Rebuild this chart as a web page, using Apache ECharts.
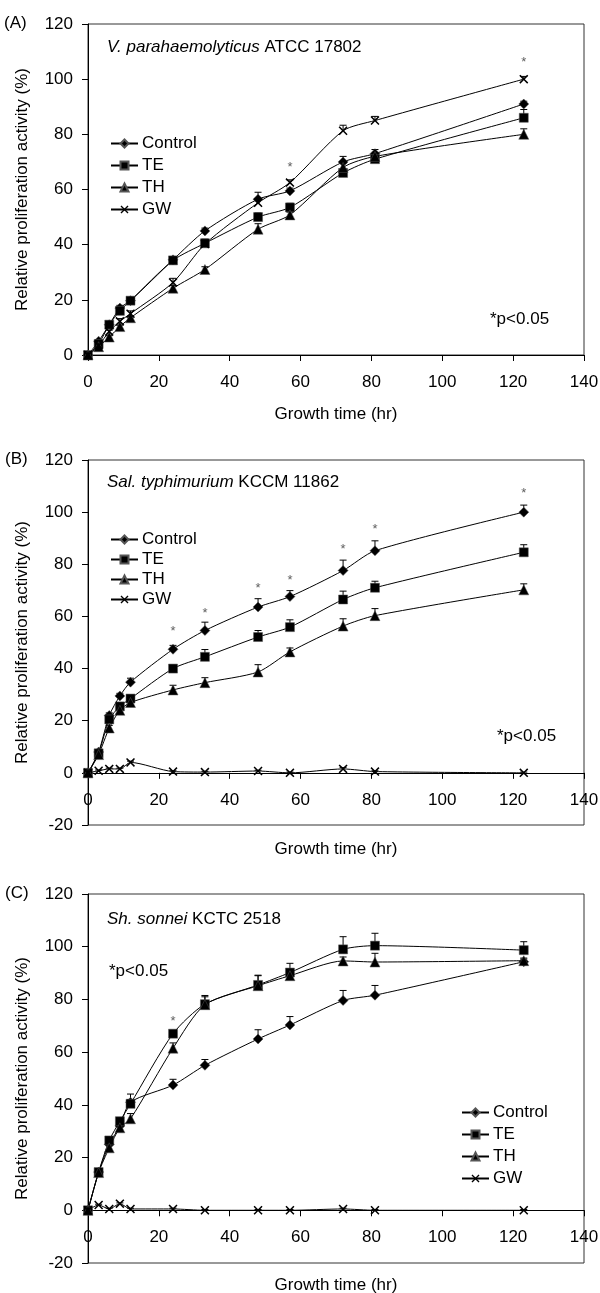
<!DOCTYPE html>
<html>
<head>
<meta charset="UTF-8">
<title>Relative proliferation activity</title>
<script src="https://cdn.jsdelivr.net/npm/echarts@6/dist/echarts.min.js"></script>
<style>
  html, body { margin: 0; padding: 0; background: #fff; }
  #box { width: 600px; height: 1293px; }
</style>
</head>
<body>
<div id="box"></div>
<script type="text/javascript">
// growth time points (hr)
var times = [0, 3, 6, 9, 12, 24, 33, 48, 57, 72, 81, 123];
var names = ['Control', 'TE', 'TH', 'GW'];

// (A) V. parahaemolyticus
var aControl = [0, 5, 11, 17, 19.7, 34.5, 45, 56.5, 59.5, 70, 73, 91];
var aTE      = [0, 4, 11, 16, 19.7, 34.3, 40.5, 50, 53.5, 66, 71, 86];
var aTH      = [0, 3, 6.5, 10.3, 13.5, 24.2, 31, 45.6, 50.8, 68, 72, 80];
var aGW      = [0, 3.5, 8.5, 12.2, 15, 26.3, 40.2, 55.2, 62.5, 81.3, 85, 100];
var aErrControl = [0, 0.5, 0.5, 1, 0.5, 1, 1, 2.5, 1, 2, 1.5, 1];
var aErrTE      = [0, 0.5, 0.5, 1, 0.5, 1, 1.5, 1.5, 1.5, 1.5, 1, 3];
var aErrTH      = [0, 0.5, 0.5, 0.5, 0.5, 1, 1, 2, 1, 1.5, 1, 2];
var aErrGW      = [0, 0.5, 0.5, 1, 1, 1.5, 1, 1, 1, 2, 1.5, 1];
var aSig = [[57, 68], [123, 106]];

// (B) Sal. typhimurium
var bControl = [0, 8, 22, 29.5, 34.8, 47.4, 54.6, 63.6, 67.6, 77.6, 85.2, 100];
var bTE      = [0, 7.5, 20.5, 25.5, 28.5, 40, 44.5, 52.1, 55.9, 66.5, 71, 84.6];
var bTH      = [0, 7, 17.2, 24, 27, 31.8, 34.6, 38.7, 46.4, 56.3, 60.3, 70.2];
var bGW      = [0, 0.8, 1.5, 1.5, 4, 0.5, 0.3, 0.7, 0, 1.5, 0.5, 0];
var bErrControl = [0, 0.5, 1, 1, 1.5, 1.5, 3.2, 3.2, 2.3, 4, 3.8, 2.7];
var bErrTE      = [0, 0.5, 1, 1, 1, 1, 2.8, 2.5, 2.8, 3.2, 2.5, 2.9];
var bErrTH      = [0, 0.5, 1, 1, 1, 1.8, 1.9, 2.8, 1.5, 2.8, 2.7, 2.3];
var bErrGW      = [0, 0.3, 0.3, 0.3, 0.5, 0.3, 0.3, 0.3, 0.3, 0.5, 0.3, 0.3];
var bSig = [[24, 54.3], [33, 61], [48, 70.6], [57, 73.8], [72, 85.6], [81, 93.2], [123, 107.3]];

// (C) Sh. sonnei
var cControl = [0, 14.5, 25, 32, 41, 47.5, 55, 65, 70.3, 79.6, 81.6, 94.3];
var cTE      = [0, 14.5, 26.5, 33.8, 40.4, 67, 78.2, 85.5, 90.2, 99, 100.4, 98.7];
var cTH      = [0, 14.3, 23.7, 31.3, 34.7, 61.5, 78, 85.2, 89, 94.6, 94.2, 94.7];
var cGW      = [0, 2, 0.5, 2.5, 0.5, 0.5, 0, 0, 0, 0.5, 0, 0];
var cErrControl = [0, 0.5, 1, 1, 1, 2.2, 2.2, 3.5, 3.2, 3.8, 3.7, 1];
var cErrTE      = [0, 0.5, 1, 1, 3.7, 1, 3.3, 3.5, 3.5, 4.8, 4.7, 3.2];
var cErrTH      = [0, 0.5, 1, 1, 2, 2, 3, 4, 2, 1.5, 3.3, 1];
var cErrGW      = [0, 0.3, 0.3, 0.3, 0.3, 0.3, 0.3, 0.3, 0.3, 0.3, 0.3, 0.3];
var cSig = [[24, 71.6]];

var FONT = 'Liberation Sans, Arial, sans-serif';
var FS = 17;
var xMark = 'path://M0,1.2L1.2,0L5,3.8L8.8,0L10,1.2L6.2,5L10,8.8L8.8,10L5,6.2L1.2,10L0,8.8L3.8,5Z';
var symbols = ['diamond', 'rect', 'triangle', xMark];
var symbolSizes = [10, 9, 10, 9];

var myChart = echarts.init(document.getElementById('box'));

function pairs(vals) {
    return times.map(function (t, i) { return [t, vals[i]]; });
}

function errPairs(vals, errs) {
    return times.map(function (t, i) { return [t, vals[i], vals[i] + errs[i]]; });
}

function renderErr(params, api) {
    var x = api.value(0);
    var p0 = api.coord([x, api.value(1)]);
    var p1 = api.coord([x, api.value(2)]);
    var st = { stroke: '#000', lineWidth: 1 };
    return {
        type: 'group',
        children: [
            { type: 'line', shape: { x1: p0[0], y1: p0[1], x2: p1[0], y2: p1[1] }, style: st },
            { type: 'line', shape: { x1: p1[0] - 3.5, y1: p1[1], x2: p1[0] + 3.5, y2: p1[1] }, style: st }
        ]
    };
}

var gridBox = [
    { top: 24, height: 331, yMin: 0 },
    { top: 460, height: 365, yMin: -20 },
    { top: 894, height: 369, yMin: -20 }
];
var xNameGaps = [51, 68, 67];

var grids = [], xAxes = [], yAxes = [];
gridBox.forEach(function (b, g) {
    grids.push({ left: 88, width: 496, top: b.top, height: b.height, show: true,
        borderColor: '#333', borderWidth: 1, outerBoundsMode: 'none', containLabel: false });
    // x axis sits at y = 0; panels with negative range shift it up
    var zeroShift = b.height * (0 - b.yMin) / (120 - b.yMin);
    xAxes.push({
        type: 'value', gridIndex: g, min: 0, max: 140, interval: 20,
        offset: -zeroShift,
        name: 'Growth time (hr)', nameLocation: 'middle', nameGap: xNameGaps[g],
        nameTextStyle: { fontFamily: FONT, fontSize: FS, color: '#000' },
        axisLine: { onZero: false, lineStyle: { color: '#000', width: 1 } },
        axisTick: { show: true, length: 6, lineStyle: { color: '#000' } },
        axisLabel: { fontFamily: FONT, fontSize: FS, color: '#000', margin: 19 },
        splitLine: { show: false }
    });
    yAxes.push({
        type: 'value', gridIndex: g, min: b.yMin, max: 120, interval: 20,
        name: 'Relative proliferation activity (%)', nameLocation: 'middle', nameGap: 57,
        nameTextStyle: { fontFamily: FONT, fontSize: FS, color: '#000' },
        axisLine: { show: true, lineStyle: { color: '#000', width: 1 } },
        axisTick: { show: true, length: 6, lineStyle: { color: '#000' } },
        axisLabel: { fontFamily: FONT, fontSize: FS, color: '#000', margin: 15 },
        splitLine: { show: false }
    });
});

var panels = [
    { lines: [aControl, aTE, aTH, aGW], errs: [aErrControl, aErrTE, aErrTH, aErrGW], sig: aSig },
    { lines: [bControl, bTE, bTH, bGW], errs: [bErrControl, bErrTE, bErrTH, bErrGW], sig: bSig },
    { lines: [cControl, cTE, cTH, cGW], errs: [cErrControl, cErrTE, cErrTH, cErrGW], sig: cSig }
];

var series = [];
panels.forEach(function (p, g) {
    p.lines.forEach(function (vals, k) {
        series.push({
            type: 'custom', name: names[k] + '-err', xAxisIndex: g, yAxisIndex: g,
            renderItem: renderErr, data: errPairs(vals, p.errs[k]), silent: true, z: 1,
            encode: { x: 0, y: [1, 2] }
        });
    });
    p.lines.forEach(function (vals, k) {
        series.push({
            type: 'line', name: names[k], xAxisIndex: g, yAxisIndex: g,
            data: pairs(vals), smooth: 0.25,
            symbol: symbols[k], symbolSize: symbolSizes[k], showAllSymbol: true,
            itemStyle: { color: '#000', borderColor: k === 3 ? '#000' : '#555', borderWidth: k === 3 ? 0 : 0.5 },
            lineStyle: { color: '#000', width: 1 },
            z: 3
        });
    });
    series.push({
        type: 'scatter', name: 'sig', xAxisIndex: g, yAxisIndex: g,
        data: p.sig, symbolSize: 1, itemStyle: { color: 'rgba(0,0,0,0)' },
        label: { show: true, position: 'inside', formatter: '*', fontFamily: FONT, fontSize: 13, color: '#333' },
        silent: true
    });
});

function legendAt(left, top, gap) {
    return {
        left: left, top: top, orient: 'vertical', itemWidth: 27, itemHeight: 10, itemGap: gap,
        padding: 0, data: names, selectedMode: false,
        textStyle: { fontFamily: FONT, fontSize: FS, color: '#000', padding: [0, 0, 0, -1] }
    };
}

function label(text, left, top) {
    var ts = { fontFamily: FONT, fontSize: FS, fontWeight: 'normal', color: '#000',
        rich: { i: { fontFamily: FONT, fontSize: FS, fontStyle: 'italic', color: '#000' },
                n: { fontFamily: FONT, fontSize: FS, color: '#000' } } };
    return { text: text, left: left, top: top, padding: 0, textStyle: ts };
}

var option = {
    backgroundColor: '#fff',
    animation: false,
    title: [
        label('(A)', 4, 15),
        label('(B)', 5, 451),
        label('(C)', 5, 885),
        label('{i|V. parahaemolyticus} {n|ATCC 17802}', 107, 39),
        label('{i|Sal. typhimurium} {n|KCCM 11862}', 107, 474),
        label('{i|Sh. sonnei} {n|KCTC 2518}', 107, 911),
        label('*p<0.05', 490, 311),
        label('*p<0.05', 497, 728),
        label('*p<0.05', 109, 963)
    ],
    legend: [legendAt(110, 135, 5), legendAt(110, 531, 3), legendAt(461, 1104, 5)],
    grid: grids,
    xAxis: xAxes,
    yAxis: yAxes,
    series: series
};
myChart.setOption(option);
</script>
</body>
</html>
